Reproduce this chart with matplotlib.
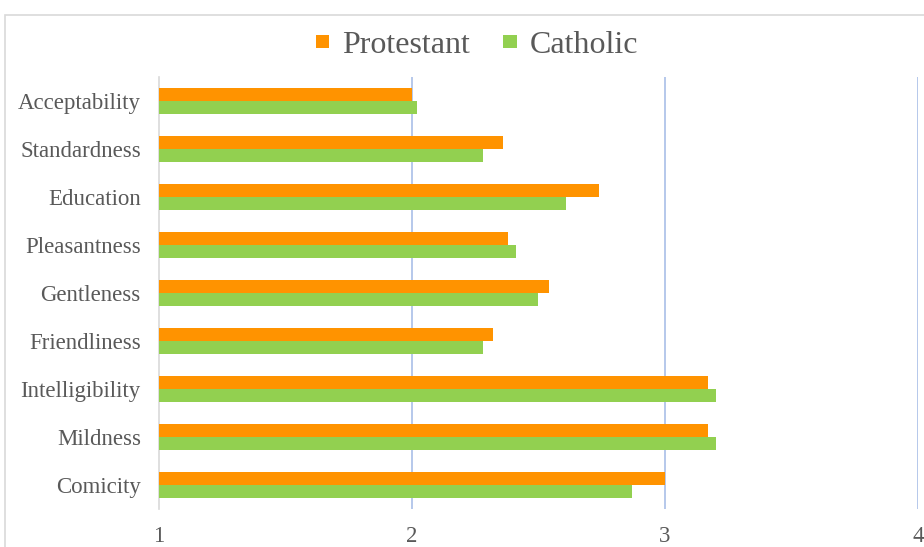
import numpy as np
import matplotlib
matplotlib.use('Agg')
import matplotlib.pyplot as plt
from matplotlib.patches import Rectangle

categories = ['Acceptability', 'Standardness', 'Education', 'Pleasantness', 'Gentleness',
              'Friendliness', 'Intelligibility', 'Mildness', 'Comicity']
protestant = [2.00, 2.36, 2.74, 2.38, 2.54, 2.32, 3.17, 3.17, 3.00]
catholic = [2.02, 2.28, 2.61, 2.41, 2.50, 2.28, 3.20, 3.20, 2.87]
x_ticks = [1, 2, 3, 4]

ORANGE = '#FF9300'
GREEN = '#92D050'
TEXT = '#595959'

plt.rcParams['font.family'] = ['Liberation Serif', 'DejaVu Serif']

fig = plt.figure(figsize=(9.24, 5.47), dpi=100)
ax = fig.add_axes([0.172, 0.0695, 0.8215, 0.7895])

y = np.arange(len(categories))
h = 0.27
base = x_ticks[0]
ax.barh(y - h / 2, np.array(protestant) - base, left=base, height=h, color=ORANGE,
        label='Protestant', zorder=3)
ax.barh(y + h / 2, np.array(catholic) - base, left=base, height=h, color=GREEN,
        label='Catholic', zorder=3)

ax.set_xlim(1, 4)
ax.set_ylim(len(categories) - 0.5, -0.5)
ax.set_yticks(y)
ax.set_yticklabels(categories)
ax.set_xticks(x_ticks)
ax.set_xticklabels([str(t) for t in x_ticks])
ax.tick_params(axis='y', length=0, pad=13, labelsize=16.5, labelcolor=TEXT)
ax.tick_params(axis='x', length=0, pad=12, labelsize=16.5, labelcolor=TEXT)

for t in x_ticks[1:]:
    ax.axvline(t, color='#a9bfe8', lw=1.2, zorder=1)

for s in ['top', 'right', 'bottom']:
    ax.spines[s].set_visible(False)
ax.spines['left'].set_color('#d9d9d9')
ax.spines['left'].set_linewidth(1.2)

# small square swatches in the legend
leg = fig.legend(loc='center', bbox_to_anchor=(0.516, 0.917), ncol=2, frameon=False,
                 fontsize=23, handlelength=0.42, handleheight=0.28, handletextpad=0.4,
                 columnspacing=1.05)
for txt in leg.get_texts():
    txt.set_color(TEXT)

# outer chart frame
fig.add_artist(Rectangle((5 / 924, -0.1), 1.2, 1.1 - 15 / 547, transform=fig.transFigure,
                         fill=False, edgecolor='#d9d9d9', lw=1.2))

fig.savefig('out.png', dpi=100)
